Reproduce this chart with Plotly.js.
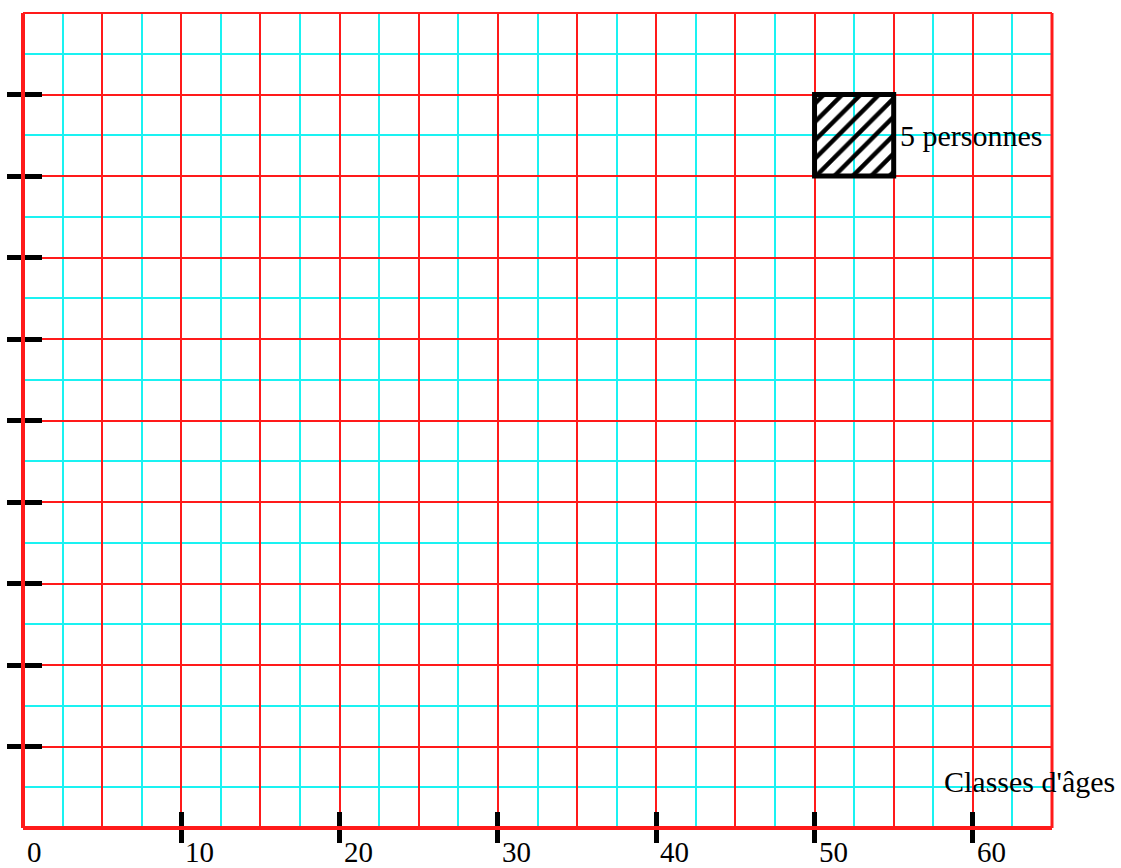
<!DOCTYPE html>
<html>
<head>
<meta charset="utf-8">
<script src="https://cdn.plot.ly/plotly-3.0.1.min.js"></script>
<style>
html,body{margin:0;padding:0;background:#fff;}
#chart{width:1121px;height:868px;}
</style>
</head>
<body>
<div id="chart"></div>
<script>
// ---- data ----
var xRange = [0, 65];                       // ages
var yRange = [0, 10];                       // persons per year
var xTickLabelVals = [0, 10, 20, 30, 40, 50, 60];
var xTickLabels = ["0", "10", "20", "30", "40", "50", "60"];
var xTickMarkVals = [10, 20, 30, 40, 50, 60];
var yTickMarkVals = [1, 2, 3, 4, 5, 6, 7, 8, 9];
var legendClass = [50, 55];                 // reference rectangle class bounds
var legendCount = [5];                      // persons represented
var legendBase = [8];
var legendText = "5 personnes";
var xAxisTitle = "Classes d'âges";

// ---- derived ----
var legendWidth = legendClass[1] - legendClass[0];
var legendHeight = legendCount.map(function (c) { return c / legendWidth; });
var legendCenter = [(legendClass[0] + legendClass[1]) / 2];

var RED = "#ff1a1a";
var CYAN = "#1af2f2";
var FONT = "Liberation Serif, Times New Roman, serif";

var traces = [{
  type: "bar",
  x: legendCenter,
  y: legendHeight,
  base: legendBase,
  width: [legendWidth],
  marker: {
    color: "rgba(0,0,0,0)",
    line: {color: "#000", width: 5},
    pattern: {shape: "/", fgcolor: "#000", fgopacity: 1, bgcolor: "rgba(0,0,0,0)", size: 13, solidity: 0.34, fillmode: "overlay"}
  },
  hoverinfo: "skip",
  showlegend: false
},
// empty helper traces so the overlay tick axes are drawn
{type: "scatter", mode: "markers", x: [], y: [], xaxis: "x2", yaxis: "y2", hoverinfo: "skip", showlegend: false},
{type: "scatter", mode: "markers", x: [], y: [], xaxis: "x3", yaxis: "y3", hoverinfo: "skip", showlegend: false}];

var annotations = xTickLabelVals.map(function (v, i) {
  return {
    x: v, xref: "x", y: 0, yref: "paper",
    text: xTickLabels[i], showarrow: false,
    xanchor: "left", yanchor: "middle", xshift: 2, yshift: -24,
    font: {family: FONT, size: 29, color: "#000"}
  };
});
annotations.push({
  x: legendClass[1], xref: "x", y: legendBase[0] + legendHeight[0] / 2, yref: "y",
  text: legendText, showarrow: false, xanchor: "left", yanchor: "middle", xshift: 4,
  font: {family: FONT, size: 30, color: "#000"}
});
annotations.push({
  x: 0.893, xref: "paper", y: 0.0565, yref: "paper",
  text: xAxisTitle, showarrow: false, xanchor: "left", yanchor: "middle",
  font: {family: FONT, size: 30, color: "#000"}
});

var baseAxis = {showline: false, zeroline: false, fixedrange: true};

var layout = {
  width: 1121, height: 868,
  margin: {l: 23, r: 69, t: 13, b: 40, pad: 0},
  paper_bgcolor: "#fff", plot_bgcolor: "#fff",
  showlegend: false,
  xaxis: Object.assign({}, baseAxis, {
    range: xRange, tickmode: "linear", tick0: 0, dtick: 5,
    showgrid: true, gridcolor: RED, gridwidth: 2,
    showticklabels: false, ticks: "",
    minor: {tickmode: "linear", tick0: 0, dtick: 2.5, showgrid: true, gridcolor: CYAN, gridwidth: 2, ticks: ""}
  }),
  yaxis: Object.assign({}, baseAxis, {
    range: yRange, tickmode: "linear", tick0: 0, dtick: 1,
    showgrid: true, gridcolor: RED, gridwidth: 2,
    showticklabels: false, ticks: "",
    minor: {tickmode: "linear", tick0: 0, dtick: 0.5, showgrid: true, gridcolor: CYAN, gridwidth: 2, ticks: ""}
  }),
  xaxis2: Object.assign({}, baseAxis, {
    overlaying: "x", anchor: "y2", side: "bottom", range: xRange,
    tickmode: "array", tickvals: xTickMarkVals, ticks: "outside", ticklen: 14, tickwidth: 5, tickcolor: "#000",
    showgrid: false, showticklabels: false
  }),
  xaxis3: Object.assign({}, baseAxis, {
    overlaying: "x", anchor: "y3", side: "bottom", range: xRange,
    tickmode: "array", tickvals: xTickMarkVals, ticks: "inside", ticklen: 16, tickwidth: 5, tickcolor: "#000",
    showgrid: false, showticklabels: false
  }),
  yaxis2: Object.assign({}, baseAxis, {
    overlaying: "y", anchor: "x2", side: "left", range: yRange,
    tickmode: "array", tickvals: yTickMarkVals, ticks: "outside", ticklen: 15, tickwidth: 5, tickcolor: "#000",
    showgrid: false, showticklabels: false
  }),
  yaxis3: Object.assign({}, baseAxis, {
    overlaying: "y", anchor: "x3", side: "left", range: yRange,
    tickmode: "array", tickvals: yTickMarkVals, ticks: "inside", ticklen: 19, tickwidth: 5, tickcolor: "#000",
    showgrid: false, showticklabels: false
  }),
  shapes: [
    {type: "line", xref: "paper", yref: "paper", x0: 0, x1: 1, y0: 1, y1: 1, line: {color: RED, width: 2}},
    {type: "line", xref: "paper", yref: "paper", x0: 1, x1: 1, y0: 0, y1: 1, line: {color: RED, width: 3}},
    {type: "line", xref: "paper", yref: "paper", x0: 0, x1: 0, y0: 0, y1: 1, line: {color: RED, width: 4}},
    {type: "line", xref: "paper", yref: "paper", x0: 0, x1: 1, y0: 0, y1: 0, line: {color: RED, width: 4}}
  ],
  annotations: annotations
};

Plotly.newPlot("chart", traces, layout, {staticPlot: true, displayModeBar: false});
</script>
</body>
</html>
